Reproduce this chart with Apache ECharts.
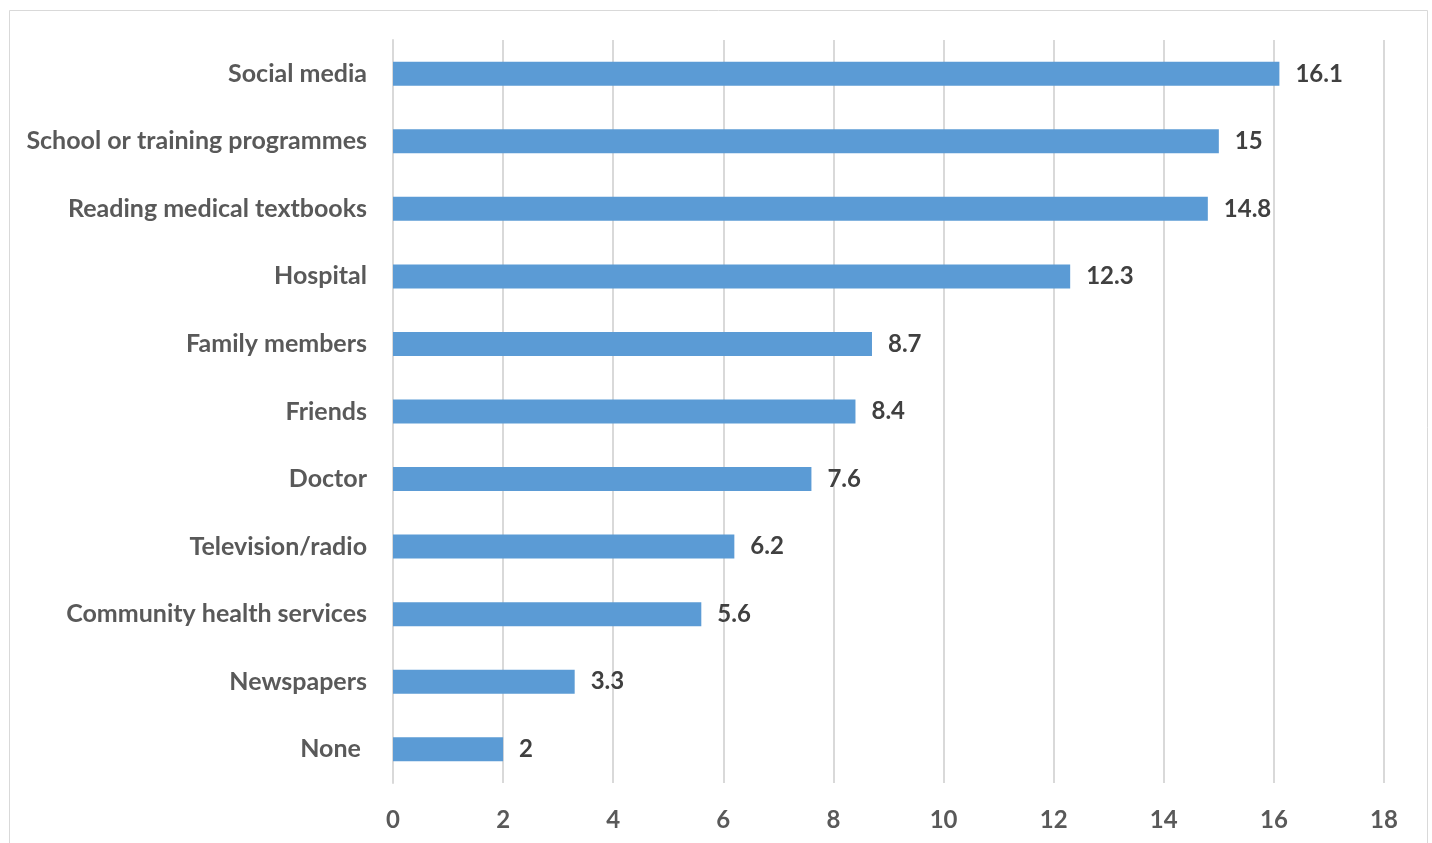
<!DOCTYPE html>
<html>
<head>
    <meta charset="utf-8">
    <title>Sources</title>
    <script src="https://cdn.jsdelivr.net/npm/echarts@6/dist/echarts.min.js"></script>
    <style>
        html, body { margin: 0; padding: 0; background: #fff; }
    </style>
</head>
<body>
    <div id="main" style="width: 1432px;height:843px;"></div>
    <script>
        var categories = ['Social media', 'School or training programmes', 'Reading medical textbooks',
            'Hospital', 'Family members', 'Friends', 'Doctor', 'Television/radio',
            'Community health services', 'Newspapers', 'None '];
        var values = [16.1, 15, 14.8, 12.3, 8.7, 8.4, 7.6, 6.2, 5.6, 3.3, 2];
        var xTicks = [0, 2, 4, 6, 8, 10, 12, 14, 16, 18];

        var chart = echarts.init(document.getElementById('main'));
        var font = 'Lato, "Open Sans", sans-serif';

        var option = {
            backgroundColor: '#fff',
            animation: false,
            graphic: [{
                type: 'rect',
                shape: { x: 9.5, y: 10.5, width: 1418, height: 860 },
                style: { fill: 'none', stroke: '#d9d9d9', lineWidth: 1 },
                silent: true
            }],
            grid: { left: 393, right: 48, top: 40, bottom: 60 },
            xAxis: {
                type: 'value',
                min: xTicks[0],
                max: xTicks[xTicks.length - 1],
                interval: 2,
                axisLine: { show: false },
                axisTick: { show: false },
                splitLine: { lineStyle: { color: '#d9d9d9', width: 2 } },
                axisLabel: {
                    color: '#595959', fontFamily: font, fontWeight: 'bold', fontSize: 24, margin: 25
                }
            },
            yAxis: {
                type: 'category',
                data: categories,
                inverse: true,
                axisLine: { show: true, lineStyle: { color: '#d9d9d9', width: 2 } },
                axisTick: { show: false },
                axisLabel: {
                    color: '#595959', fontFamily: font, fontWeight: 'bold', fontSize: 25, margin: 26,
                    padding: [3, 0, 0, 0]
                }
            },
            series: [{
                type: 'bar',
                data: values,
                barWidth: 24,
                itemStyle: { color: '#5b9bd5' },
                label: {
                    show: true, position: 'right', distance: 16,
                    color: '#404040', fontFamily: font, fontWeight: 'bold', fontSize: 24,
                    padding: [3, 0, 0, 0]
                }
            }]
        };
        chart.setOption(option);
    </script>
</body>
</html>
